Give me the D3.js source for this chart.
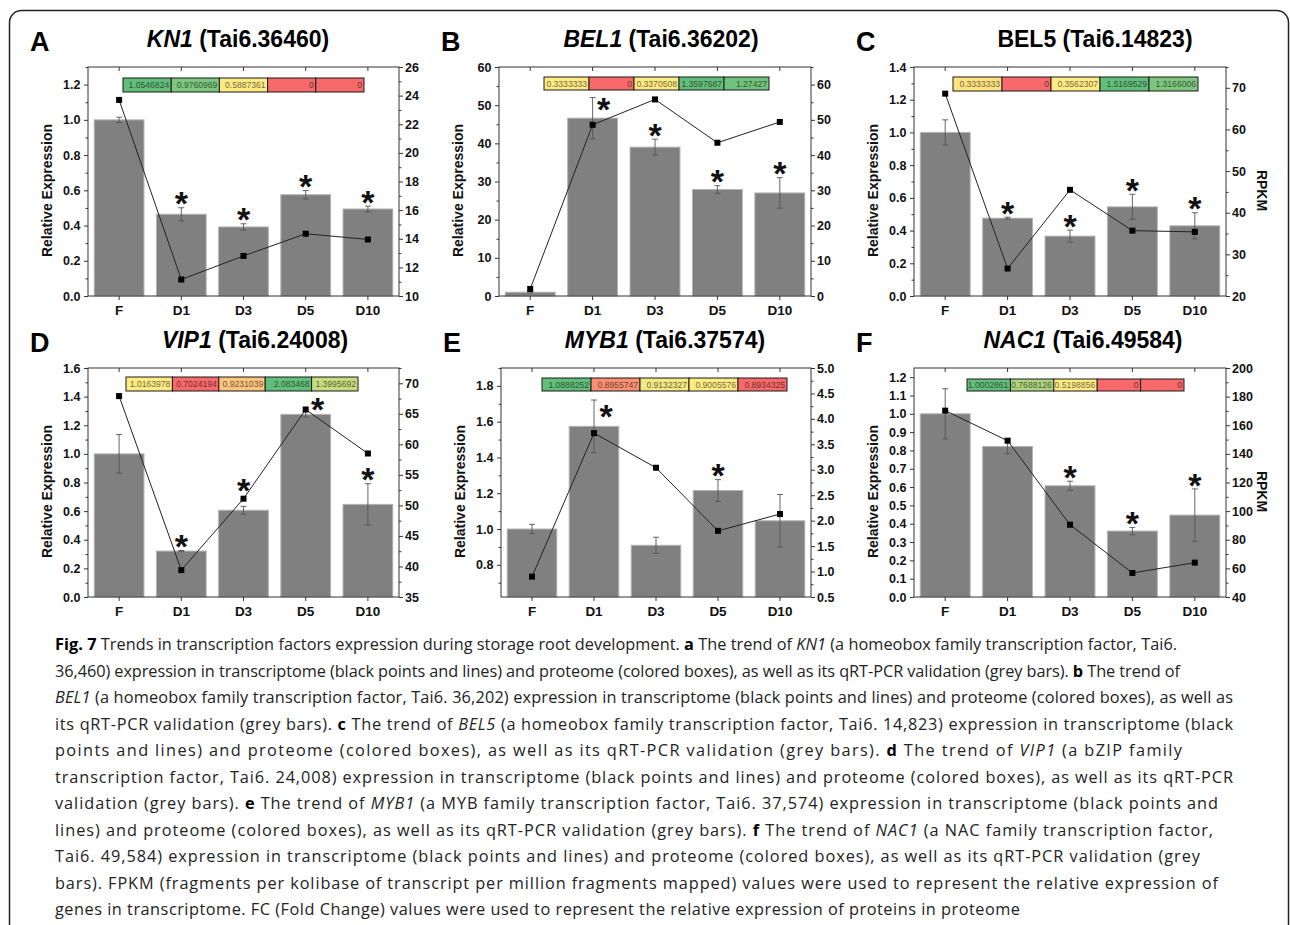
<!DOCTYPE html>
<html>
<head>
<meta charset="utf-8">
<script src="https://cdn.jsdelivr.net/npm/d3@7"></script>
<style>
  body { margin: 0; background: #fff; }
  svg { display: block; font-family: Arial, "Liberation Sans", sans-serif; }
</style>
</head>
<body>
<svg id="fig" width="1290" height="925"></svg>
<script>

// sampling points, shared by every panel
var categories = ['F', 'D1', 'D3', 'D5', 'D10'];

// A - KN1
var kn1Bar  = [1.0, 0.464, 0.392, 0.575, 0.494];
var kn1Err  = [0.015, 0.037, 0.018, 0.024, 0.016];
var kn1Rpkm = [23.7, 11.15, 12.8, 14.35, 13.95];
var kn1Fc   = [1.0546824, 0.9760969, 0.5887361, 0, 0];
var kn1Star = [0, 1, 1, 1, 1];
var kn1LeftTicks  = [0, 0.2, 0.4, 0.6, 0.8, 1.0, 1.2];
var kn1RightTicks = [10, 12, 14, 16, 18, 20, 22, 24, 26];

// B - BEL1
var bel1Bar  = [1.0, 46.6, 39.0, 27.9, 27.0];
var bel1Err  = [0.2, 5.4, 2.1, 1.0, 4.0];
var bel1Rpkm = [2.0, 48.6, 55.8, 43.5, 49.4];
var bel1Fc   = [0.3333333, 0, 0.3370508, 1.3597687, 1.27427];
var bel1Star = [0, 1, 1, 1, 1];
var bel1LeftTicks  = [0, 10, 20, 30, 40, 50, 60];
var bel1RightTicks = [0, 10, 20, 30, 40, 50, 60];

// C - BEL5
var bel5Bar  = [1.0, 0.476, 0.366, 0.545, 0.429];
var bel5Err  = [0.077, 0.006, 0.037, 0.077, 0.08];
var bel5Rpkm = [68.6, 26.6, 45.5, 35.7, 35.4];
var bel5Fc   = [0.3333333, 0, 0.3562307, 1.5169529, 1.3166006];
var bel5Star = [0, 1, 1, 1, 1];
var bel5LeftTicks  = [0, 0.2, 0.4, 0.6, 0.8, 1.0, 1.2, 1.4];
var bel5RightTicks = [20, 30, 40, 50, 60, 70];

// D - VIP1
var vip1Bar  = [1.0, 0.321, 0.606, 1.276, 0.647];
var vip1Err  = [0.135, 0.004, 0.027, 0.02, 0.145];
var vip1Rpkm = [67.9, 39.4, 51.1, 65.7, 58.5];
var vip1Fc   = [1.0163978, 0.7024194, 0.9231039, 2.083468, 1.3995692];
var vip1Star = [0, 1, 1, 1, 1];
var vip1LeftTicks  = [0, 0.2, 0.4, 0.6, 0.8, 1.0, 1.2, 1.4, 1.6];
var vip1RightTicks = [35, 40, 45, 50, 55, 60, 65, 70];

// E - MYB1
var myb1Bar  = [1.0, 1.574, 0.909, 1.215, 1.046];
var myb1Err  = [0.026, 0.147, 0.045, 0.061, 0.147];
var myb1Rpkm = [0.90, 3.72, 3.04, 1.80, 2.13];
var myb1Fc   = [1.0888252, 0.8955747, 0.9132327, 0.9005576, 0.8934325];
var myb1Star = [0, 1, 0, 1, 0];
var myb1LeftTicks  = [0.8, 1.0, 1.2, 1.4, 1.6, 1.8];
var myb1RightTicks = [0.5, 1.0, 1.5, 2.0, 2.5, 3.0, 3.5, 4.0, 4.5, 5.0];

// F - NAC1
var nac1Bar  = [1.0, 0.822, 0.607, 0.36, 0.447];
var nac1Err  = [0.137, 0.04, 0.025, 0.02, 0.143];
var nac1Rpkm = [170.2, 149.2, 90.5, 56.8, 64.0];
var nac1Fc   = [1.0002861, 0.7688126, 0.5198856, 0, 0];
var nac1Star = [0, 0, 1, 1, 1];
var nac1LeftTicks  = [0, 0.1, 0.2, 0.3, 0.4, 0.5, 0.6, 0.7, 0.8, 0.9, 1.0, 1.1, 1.2];
var nac1RightTicks = [40, 60, 80, 100, 120, 140, 160, 180, 200];

// figure legend, one entry per printed line, and where each line ends
var captionLines = [
  '<b>Fig. 7</b> Trends in transcription factors expression during storage root development. <b>a</b> The trend of <i>KN1</i> (a homeobox family transcription factor, Tai6.',
  '36,460) expression in transcriptome (black points and lines) and proteome (colored boxes), as well as its qRT-PCR validation (grey bars). <b>b</b> The trend of',
  '<i>BEL1</i> (a homeobox family transcription factor, Tai6. 36,202) expression in transcriptome (black points and lines) and proteome (colored boxes), as well as',
  'its qRT-PCR validation (grey bars). <b>c</b> The trend of <i>BEL5</i> (a homeobox family transcription factor, Tai6. 14,823) expression in transcriptome (black',
  'points and lines) and proteome (colored boxes), as well as its qRT-PCR validation (grey bars). <b>d</b> The trend of <i>VIP1</i> (a bZIP family',
  'transcription factor, Tai6. 24,008) expression in transcriptome (black points and lines) and proteome (colored boxes), as well as its qRT-PCR',
  'validation (grey bars). <b>e</b> The trend of <i>MYB1</i> (a MYB family transcription factor, Tai6. 37,574) expression in transcriptome (black points and',
  'lines) and proteome (colored boxes), as well as its qRT-PCR validation (grey bars). <b>f</b> The trend of <i>NAC1</i> (a NAC family transcription factor,',
  'Tai6. 49,584) expression in transcriptome (black points and lines) and proteome (colored boxes), as well as its qRT-PCR validation (grey',
  'bars). FPKM (fragments per kolibase of transcript per million fragments mapped) values were used to represent the relative expression of',
  'genes in transcriptome. FC (Fold Change) values were used to represent the relative expression of proteins in proteome'
];
var captionEnds = [1177, 1180, 1233, 1233, 1182, 1233, 1218, 1213, 1200, 1218, 1020];


// panel layout (positions only), data is hooked in from the arrays above
var panels = [
  { letter: 'A', gene: 'KN1', geneItalic: true, tai: ' (Tai6.36460)',
    bar: kn1Bar, err: kn1Err, rpkm: kn1Rpkm, fc: kn1Fc, star: kn1Star,
    yL: [0, 1.3], yLTicks: kn1LeftTicks, yLMinor: 0.1, yLFmt: '.1f',
    yR: [10, 26], yRTicks: kn1RightTicks, yRMinor: 1, yRFmt: 'd', rLabel: false,
    x0: 88, x1: 399, y0: 67, y1: 296, titleX: 238, box: [123, 364, 78, 92], starFix: {} },
  { letter: 'B', gene: 'BEL1', geneItalic: true, tai: ' (Tai6.36202)',
    bar: bel1Bar, err: bel1Err, rpkm: bel1Rpkm, fc: bel1Fc, star: bel1Star,
    yL: [0, 60], yLTicks: bel1LeftTicks, yLMinor: 5, yLFmt: 'd',
    yR: [0, 65], yRTicks: bel1RightTicks, yRMinor: 5, yRFmt: 'd', rLabel: false,
    x0: 499, x1: 811, y0: 67, y1: 296, titleX: 661, box: [544, 769, 77, 90], starFix: { 1: [11, 5] } },
  { letter: 'C', gene: 'BEL5', geneItalic: false, tai: ' (Tai6.14823)',
    bar: bel5Bar, err: bel5Err, rpkm: bel5Rpkm, fc: bel5Fc, star: bel5Star,
    yL: [0, 1.4], yLTicks: bel5LeftTicks, yLMinor: 0.1, yLFmt: '.1f',
    yR: [20, 75], yRTicks: bel5RightTicks, yRMinor: 5, yRFmt: 'd', rLabel: true,
    x0: 914, x1: 1226, y0: 67, y1: 296, titleX: 1095, box: [953, 1198, 77, 91], starFix: {} },
  { letter: 'D', gene: 'VIP1', geneItalic: true, tai: ' (Tai6.24008)',
    bar: vip1Bar, err: vip1Err, rpkm: vip1Rpkm, fc: vip1Fc, star: vip1Star,
    yL: [0, 1.6], yLTicks: vip1LeftTicks, yLMinor: 0.1, yLFmt: '.1f',
    yR: [35, 72.5], yRTicks: vip1RightTicks, yRMinor: 2.5, yRFmt: 'd', rLabel: false,
    x0: 88, x1: 399, y0: 368, y1: 597, titleX: 255, box: [126, 358, 377, 391],
    starFix: { 2: [0, -23], 3: [12, -9] } },
  { letter: 'E', gene: 'MYB1', geneItalic: true, tai: ' (Tai6.37574)',
    bar: myb1Bar, err: myb1Err, rpkm: myb1Rpkm, fc: myb1Fc, star: myb1Star,
    yL: [0.62, 1.9], yLTicks: myb1LeftTicks, yLMinor: 0.1, yLFmt: '.1f',
    yR: [0.5, 5.0], yRTicks: myb1RightTicks, yRMinor: 0.25, yRFmt: '.1f', rLabel: false,
    x0: 501, x1: 811, y0: 368, y1: 597, titleX: 665, box: [542, 787, 378, 391], starFix: { 1: [12, 9] } },
  { letter: 'F', gene: 'NAC1', geneItalic: true, tai: ' (Tai6.49584)',
    bar: nac1Bar, err: nac1Err, rpkm: nac1Rpkm, fc: nac1Fc, star: nac1Star,
    yL: [0, 1.25], yLTicks: nac1LeftTicks, yLMinor: 0, yLFmt: '.1f',
    yR: [40, 200], yRTicks: nac1RightTicks, yRMinor: 10, yRFmt: 'd', rLabel: true,
    x0: 914, x1: 1226, y0: 368, y1: 597, titleX: 1083, box: [967, 1184, 379, 391], starFix: {} }
];

var svg = d3.select('#fig');
var axisColor = '#333';

// outer rounded frame of the figure
svg.append('rect')
    .attr('x', 9.5).attr('y', 10.5)
    .attr('width', 1279).attr('height', 1000)
    .attr('rx', 12)
    .attr('fill', 'none')
    .attr('stroke', '#222')
    .attr('stroke-width', 1.5);

function minorValues(domain, step, majors){
    if (!step) return [];
    var out = [];
    var start = Math.ceil(domain[0] / step - 1e-6) * step;
    for (var v = start; v <= domain[1] + 1e-6; v += step){
        var isMajor = majors.some(function(m){ return Math.abs(m - v) < 1e-6; });
        if (!isMajor) out.push(+v.toFixed(4));
    }
    return out;
}

function styleAxis(g){
    g.selectAll('path.domain').remove();
    g.selectAll('line').attr('stroke', axisColor).attr('stroke-width', 1);
    g.selectAll('text')
        .attr('font-size', 12.5)
        .attr('font-weight', 'bold')
        .attr('fill', '#111')
        .attr('font-family', 'Arial, "Liberation Sans", sans-serif');
}

panels.forEach(function(p){

    var g = svg.append('g');

    var x = d3.scaleBand()
              .domain(categories)
              .range([p.x0, p.x1])
              .paddingInner(0.2)
              .paddingOuter(0.1);

    var yL = d3.scaleLinear().domain(p.yL).range([p.y1, p.y0]);
    var yR = d3.scaleLinear().domain(p.yR).range([p.y1, p.y0]);
    var cx = function(i){ return x(categories[i]) + x.bandwidth() / 2; };

    // grey bars (qRT-PCR)
    g.selectAll('.bar')
        .data(p.bar)
        .enter().append('rect')
        .attr('x', function(d, i){ return x(categories[i]); })
        .attr('y', function(d){ return yL(d); })
        .attr('width', x.bandwidth())
        .attr('height', function(d){ return p.y1 - yL(d); })
        .attr('fill', '#808080')
        .attr('stroke', '#b4b4b4')
        .attr('stroke-width', 1);

    // error bars
    p.bar.forEach(function(v, i){
        var e = p.err[i], xc = cx(i);
        var top = yL(v + e), bot = yL(v - e);
        var eb = g.append('g').attr('stroke', '#555').attr('stroke-width', 0.9);
        eb.append('line').attr('x1', xc).attr('x2', xc).attr('y1', top).attr('y2', bot);
        eb.append('line').attr('x1', xc - 3).attr('x2', xc + 3).attr('y1', top).attr('y2', top);
        eb.append('line').attr('x1', xc - 3).attr('x2', xc + 3).attr('y1', bot).attr('y2', bot);
    });

    // transcriptome line + square markers, on the right axis
    var line = d3.line()
                 .x(function(d, i){ return cx(i); })
                 .y(function(d){ return yR(d); });

    g.append('path')
        .attr('d', line(p.rpkm))
        .attr('fill', 'none')
        .attr('stroke', '#222')
        .attr('stroke-width', 1);

    g.selectAll('.pt')
        .data(p.rpkm)
        .enter().append('rect')
        .attr('x', function(d, i){ return cx(i) - 3; })
        .attr('y', function(d){ return yR(d) - 3; })
        .attr('width', 6)
        .attr('height', 6)
        .attr('fill', '#000');

    // significance stars
    var starSize = 34;
    p.star.forEach(function(s, i){
        if (!s) return;
        var errTop = yL(p.bar[i] + p.err[i]);
        var fix = p.starFix[i] || [0, -11];
        var centerY = errTop + fix[1];
        g.append('text')
            .text('*')
            .attr('x', cx(i) + fix[0])
            .attr('y', centerY + starSize * 0.55)
            .attr('text-anchor', 'middle')
            .attr('font-size', starSize)
            .attr('font-weight', 'bold')
            .attr('fill', '#111');
    });

    // proteome fold-change boxes, Excel-like red/yellow/green scale per row
    var sorted = p.fc.slice().sort(d3.ascending);
    var colour = d3.scaleLinear()
                   .domain([sorted[0], d3.median(p.fc), sorted[sorted.length - 1]])
                   .range(['#F8696B', '#FFEB84', '#63BE7B'])
                   .interpolate(d3.interpolateRgb);
    var cellW = (p.box[1] - p.box[0]) / p.fc.length;
    var boxH = p.box[3] - p.box[2];
    p.fc.forEach(function(v, i){
        var bx = p.box[0] + i * cellW;
        var c = colour(v);
        g.append('rect')
            .attr('x', bx).attr('y', p.box[2])
            .attr('width', cellW).attr('height', boxH)
            .attr('fill', c)
            .attr('stroke', '#1a1a1a')
            .attr('stroke-width', 1);
        g.append('text')
            .text(String(v))
            .attr('x', bx + cellW - 2)
            .attr('y', p.box[2] + boxH / 2 + 3)
            .attr('text-anchor', 'end')
            .attr('font-size', 8.6)
            .attr('font-family', '"Liberation Sans", Arial, sans-serif')
            .attr('fill', d3.color(c).darker(2.2));
    });

    // plot frame
    g.append('rect')
        .attr('x', p.x0).attr('y', p.y0)
        .attr('width', p.x1 - p.x0).attr('height', p.y1 - p.y0)
        .attr('fill', 'none')
        .attr('stroke', axisColor)
        .attr('stroke-width', 1);

    // axes
    var fL = d3.format(p.yLFmt), fR = d3.format(p.yRFmt);

    g.append('g').attr('transform', 'translate(' + p.x0 + ',0)')
        .call(d3.axisLeft(yL).tickValues(p.yLTicks).tickFormat(fL).tickSize(4).tickPadding(3.5))
        .call(styleAxis);
    g.append('g').attr('transform', 'translate(' + p.x0 + ',0)')
        .call(d3.axisLeft(yL).tickValues(minorValues(p.yL, p.yLMinor, p.yLTicks)).tickFormat('').tickSize(2.5))
        .call(styleAxis);

    g.append('g').attr('transform', 'translate(' + p.x1 + ',0)')
        .call(d3.axisRight(yR).tickValues(p.yRTicks).tickFormat(fR).tickSize(4).tickPadding(2))
        .call(styleAxis);
    g.append('g').attr('transform', 'translate(' + p.x1 + ',0)')
        .call(d3.axisRight(yR).tickValues(minorValues(p.yR, p.yRMinor, p.yRTicks)).tickFormat('').tickSize(2.5))
        .call(styleAxis);

    g.append('g').attr('transform', 'translate(0,' + p.y1 + ')')
        .call(d3.axisBottom(x).tickSize(4).tickPadding(5))
        .call(styleAxis)
        .selectAll('text').attr('font-size', 13.5);

    g.append('g').attr('transform', 'translate(0,' + p.y0 + ')')
        .call(d3.axisTop(x).tickSize(-4).tickFormat(''))
        .call(styleAxis);

    // axis titles
    var midY = (p.y0 + p.y1) / 2 + 9;
    g.append('text')
        .text('Relative Expression')
        .attr('transform', 'translate(' + (p.x0 - 36) + ',' + midY + ') rotate(-90)')
        .attr('text-anchor', 'middle')
        .attr('font-size', 14)
        .attr('font-weight', 'bold')
        .attr('fill', '#111');

    if (p.rLabel){
        g.append('text')
            .text('RPKM')
            .attr('transform', 'translate(' + (p.x1 + 31) + ',' + midY + ') rotate(90)')
            .attr('text-anchor', 'middle')
            .attr('font-size', 14)
            .attr('font-weight', 'bold')
            .attr('fill', '#111');
    }

    // panel title and letter
    var titleY = p.y0 - 20;
    var t = g.append('text')
        .attr('x', p.titleX).attr('y', titleY)
        .attr('text-anchor', 'middle')
        .attr('font-size', 23)
        .attr('font-weight', 'bold')
        .attr('fill', '#000');
    t.append('tspan').text(p.gene).attr('font-style', p.geneItalic ? 'italic' : 'normal');
    t.append('tspan').text(p.tai);

    g.append('text')
        .text(p.letter)
        .attr('x', p.x0 - 58).attr('y', p.y0 - 16)
        .attr('font-size', 27)
        .attr('font-weight', 'bold')
        .attr('fill', '#000');
});

// legend text under the panels
var cap = svg.append('g')
             .attr('font-family', '"Open Sans", "Noto Sans", sans-serif')
             .attr('font-size', 16.3)
             .attr('fill', '#222');

captionLines.forEach(function(str, li){
    var txt = cap.append('text')
        .attr('x', 55)
        .attr('y', 650 + li * 26.5)
        .attr('textLength', captionEnds[li] - 55)
        .attr('lengthAdjust', 'spacing')
        .attr('xml:space', 'preserve');
    var parts = str.split(/(<b>.*?<\/b>|<i>.*?<\/i>)/);
    parts.forEach(function(part){
        if (!part) return;
        var ts = txt.append('tspan');
        if (part.indexOf('<b>') === 0){
            ts.text(part.slice(3, -4)).attr('font-weight', 'bold').attr('fill', '#000');
        } else if (part.indexOf('<i>') === 0){
            ts.text(part.slice(3, -4)).attr('font-style', 'italic');
        } else {
            ts.text(part);
        }
    });
});

</script>
</body>
</html>
